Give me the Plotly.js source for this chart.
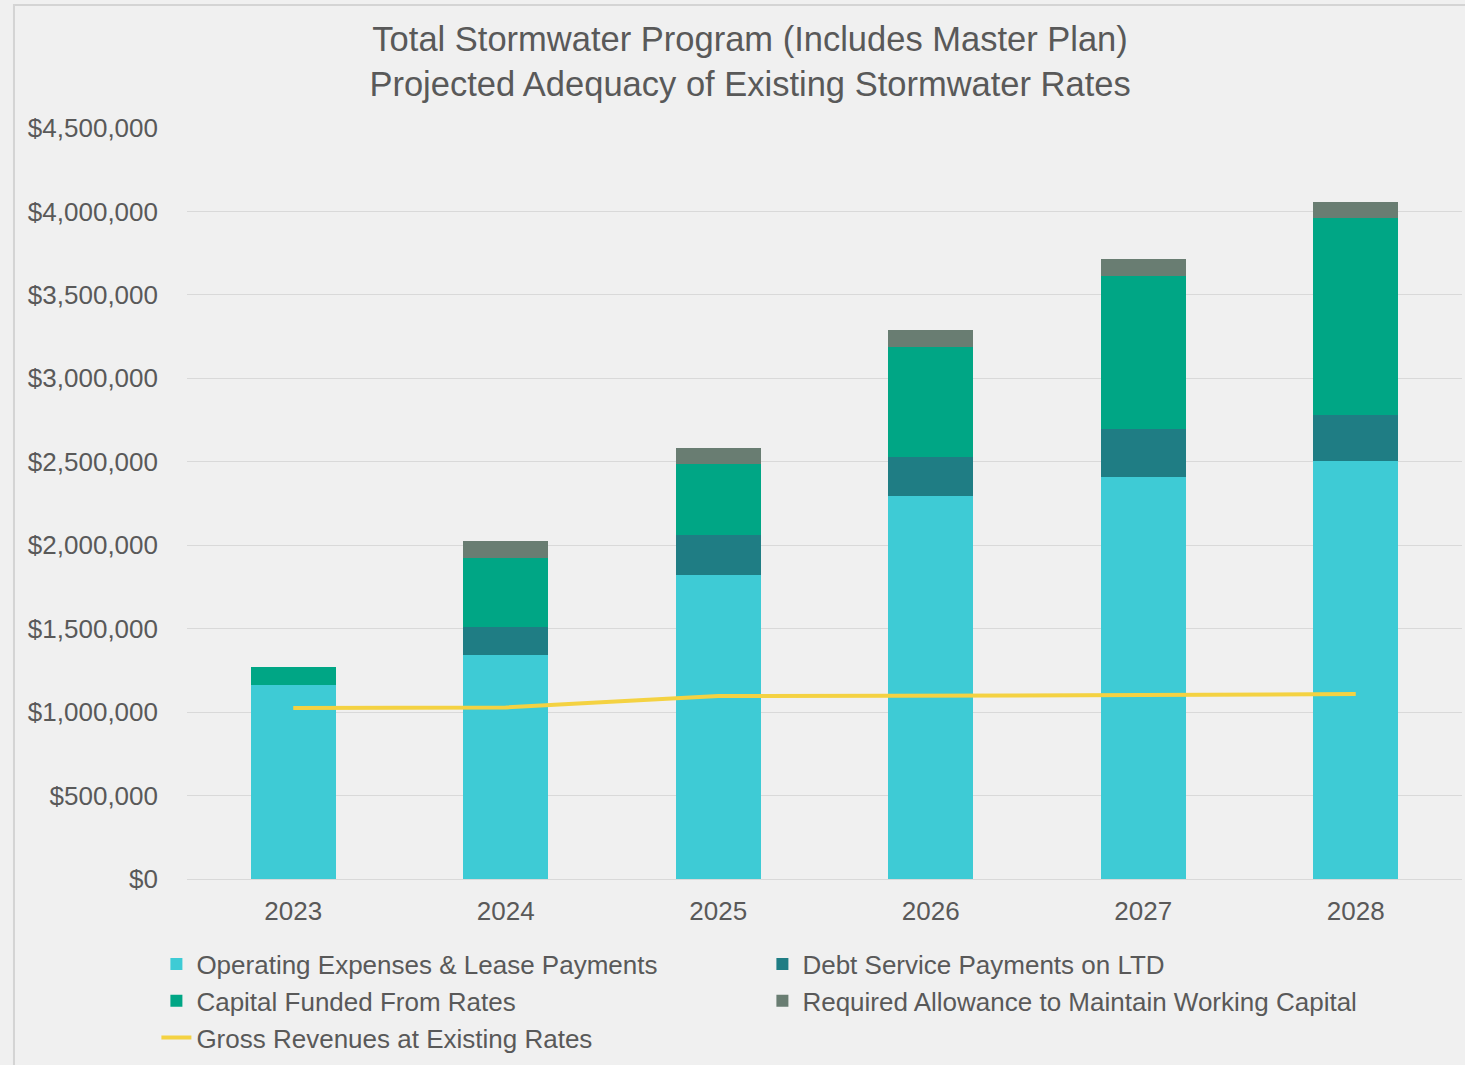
<!DOCTYPE html>
<html>
<head>
<meta charset="utf-8">
<script src="https://cdn.plot.ly/plotly-3.0.1.min.js"></script>
<style>html,body{margin:0;padding:0;background:#f0f0f0;}#chart{width:1465px;height:1065px;}</style>
</head>
<body>
<div id="chart"></div>
<script>
const years = ['2023', '2024', '2025', '2026', '2027', '2028'];
const operating = [1162000, 1342000, 1821000, 2295000, 2409000, 2504000];
const debtService = [0, 168000, 240000, 233000, 287000, 276000];
const capital = [108000, 413000, 426000, 660000, 917000, 1180000];
const allowance = [0, 102000, 95000, 101000, 102000, 96000];
const revenues = [1025000, 1028000, 1096000, 1098000, 1102000, 1108000];

const font = 'Liberation Sans, Arial, sans-serif';
const txt = '#595959';

function bar(name, y, color) {
  return {type: 'bar', name: name, x: years, y: y, marker: {color: color, line: {width: 0}}, hoverinfo: 'y+name'};
}

const data = [
  bar('Operating Expenses &amp; Lease Payments', operating, '#3ecbd5'),
  bar('Debt Service Payments on LTD', debtService, '#1f7d84'),
  bar('Capital Funded From Rates', capital, '#00a685'),
  bar('Required Allowance to Maintain Working Capital', allowance, '#697d72'),
  {type: 'scatter', mode: 'lines', name: 'Gross Revenues at Existing Rates', x: years, y: revenues,
   line: {color: '#f4d242', width: 4}}
];

const layout = {
  width: 1465, height: 1065,
  paper_bgcolor: '#f0f0f0', plot_bgcolor: '#f0f0f0',
  margin: {l: 187, r: 3, t: 128, b: 186},
  barmode: 'stack', bargap: 0.6,
  font: {family: font, color: txt, size: 26},
  title: {text: 'Total Stormwater Program (Includes Master Plan)<br>Projected Adequacy of Existing Stormwater Rates',
          font: {family: font, size: 34.5, color: txt}, x: 0.512, xanchor: 'center', y: 0.952, yanchor: 'top'},
  xaxis: {type: 'category', showgrid: false, zeroline: false, showline: false, ticks: '',
          tickfont: {size: 26, color: txt}, ticklabelstandoff: 14},
  yaxis: {range: [0, 4500000], dtick: 500000, tickformat: '$,.0f', showgrid: true, gridcolor: '#d9d9d9', gridwidth: 1,
          zeroline: true, zerolinecolor: '#d9d9d9', zerolinewidth: 1, showline: false, ticks: '',
          tickfont: {size: 26, color: txt}, ticklabelstandoff: 28},
  showlegend: true,
  legend: {orientation: 'h', x: -0.024, xanchor: 'left', y: -0.082, yanchor: 'top',
           entrywidth: 561, entrywidthmode: 'pixels', traceorder: 'normal',
           font: {size: 26, color: txt}, bgcolor: 'rgba(0,0,0,0)'},
  shapes: [{type: 'rect', xref: 'paper', yref: 'paper', x0: -0.1357, x1: 1.05, y0: -0.5, y1: 1.1638,
            line: {color: '#d4d4d4', width: 2}, fillcolor: 'rgba(0,0,0,0)', layer: 'below'}]
};

Plotly.newPlot('chart', data, layout, {displayModeBar: false, staticPlot: true});
</script>
</body>
</html>
